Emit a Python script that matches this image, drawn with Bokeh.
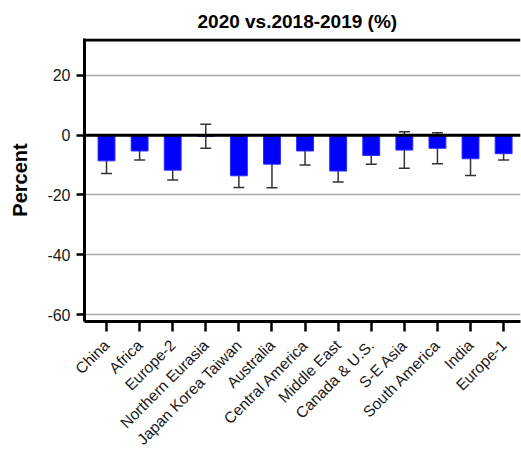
from bokeh.plotting import figure
from bokeh.models import (ColumnDataSource, Range1d, FixedTicker, Whisker, TeeHead, Span)
from bokeh.embed import file_html
from bokeh.resources import INLINE
import math

regions = ["China", "Africa", "Europe-2", "Northern Eurasia", "Japan Korea Taiwan",
           "Australia", "Central America", "Middle East", "Canada & U.S.", "S-E Asia",
           "South America", "India", "Europe-1"]
change_pct = [-8.6, -5.3, -11.7, -0.4, -13.6, -9.7, -5.3, -12.0, -6.8, -5.0, -4.4, -7.9, -6.2]
error_pct = [4.2, 3.0, 3.3, 4.0, 3.9, 7.9, 4.7, 3.7, 2.9, 6.1, 5.2, 5.6, 2.1]
y_ticks = [-60, -40, -20, 0, 20]
title_text = "2020 vs.2018-2019 (%)"

Y_MIN, Y_MAX = -62.3, 32.3

xs = list(range(len(regions)))
src = ColumnDataSource(dict(
    x=xs,
    top=change_pct,
    upper=[v + e for v, e in zip(change_pct, error_pct)],
    lower=[v - e for v, e in zip(change_pct, error_pct)],
))

FONT = "Liberation Sans"

p = figure(width=521, height=458, output_backend="svg", toolbar_location=None,
           x_range=Range1d(-0.665, 12.51), y_range=Range1d(Y_MIN, Y_MAX),
           min_border_left=84, min_border_right=1, min_border_top=38,
           min_border_bottom=137, title=title_text)
p.outline_line_color = None
p.background_fill_color = "white"
p.border_fill_color = "white"

p.title.align = "left"
p.title.offset = 113
p.title.standoff = 13
p.title.text_line_height = 0.85
p.title.text_font = FONT
p.title.text_font_size = "19px"
p.title.text_font_style = "bold"
p.title.text_color = "black"

# bars and error bars
p.vbar(x="x", top="top", bottom=0, width=0.51, source=src,
       fill_color="#0000ff", line_color="#2a2aff", line_width=1)
p.add_layout(Whisker(base="x", upper="upper", lower="lower", source=src,
                     line_color="#333333", line_width=1.5,
                     upper_head=TeeHead(size=11, line_color="#333333", line_width=1.5),
                     lower_head=TeeHead(size=11, line_color="#333333", line_width=1.5)))

# zero line and top edge of the frame
p.add_layout(Span(location=0, dimension="width", line_color="black", line_width=3))
p.add_layout(Span(location=Y_MAX - 0.5, dimension="width", line_color="black", line_width=3))

# grid and axes
p.xgrid.visible = False
p.ygrid.ticker = FixedTicker(ticks=y_ticks)
p.ygrid.grid_line_color = "#a8a8a8"
p.ygrid.grid_line_width = 1.5

p.yaxis.ticker = FixedTicker(ticks=y_ticks)
p.yaxis.major_label_overrides = {t: str(t) for t in y_ticks}
p.xaxis.ticker = FixedTicker(ticks=xs)
p.xaxis.major_label_overrides = {i: r for i, r in enumerate(regions)}
p.xaxis.major_label_orientation = math.pi / 4

for ax in (p.xaxis[0], p.yaxis[0]):
    ax.axis_line_width = 3
    ax.axis_line_color = "black"
    ax.major_tick_line_width = 2.5
    ax.major_tick_line_color = "black"
    ax.major_tick_in = 0
    ax.minor_tick_line_color = None
    ax.major_label_text_font = FONT
    ax.major_label_text_color = "#1a1a1a"

p.yaxis.major_tick_out = 8
p.yaxis.major_label_standoff = 6
p.yaxis.major_label_text_font_size = "16px"
p.xaxis.major_tick_out = 10
p.xaxis.major_label_standoff = 11
p.xaxis.major_label_text_font_size = "15.5px"

p.yaxis.axis_label = "Percent"
p.yaxis.axis_label_text_font = FONT
p.yaxis.axis_label_text_font_size = "20px"
p.yaxis.axis_label_text_font_style = "bold"
p.yaxis.axis_label_text_color = "black"
p.yaxis.axis_label_standoff = 13

open("out.html", "w").write(file_html(p, INLINE))
